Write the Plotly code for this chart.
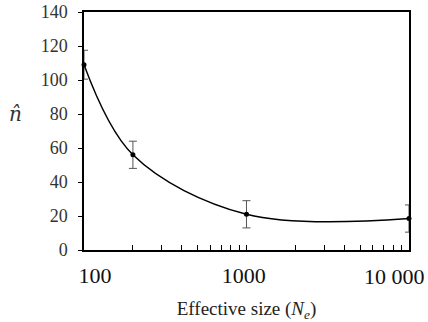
import plotly.graph_objects as go

ne = [100, 200, 1000, 10000]
n_hat = [109, 56, 21, 18.5]
err = [8.5, 8, 8, 8]
y_ticks = [0, 20, 40, 60, 80, 100, 120, 140]
x_tickvals = [100, 200, 300, 400, 500, 600, 700, 800, 900,
              1000, 2000, 3000, 4000, 5000, 6000, 7000, 8000, 9000, 10000]
NB = "\u00a0"
x_ticktext = [NB * 4 + "100", "", "", "", "", "", "", "", "",
              "1000" + NB, "", "", "", "", "", "", "", "", ""]
last_label = "10" + NB + "000"

fig = go.Figure()
fig.add_trace(go.Scatter(
    x=ne, y=n_hat, mode="lines+markers",
    line=dict(color="black", width=1.5, shape="spline", smoothing=1.0),
    marker=dict(color="black", size=5),
    error_y=dict(type="data", array=err, color="#555555", thickness=1, width=4),
    cliponaxis=False,
))

font = "Liberation Serif, Times New Roman, DejaVu Serif, serif"
fig.update_layout(
    width=428, height=322,
    margin=dict(l=84, r=19, t=12, b=72),
    paper_bgcolor="white", plot_bgcolor="white",
    showlegend=False,
    font=dict(family=font, color="#222"),
    xaxis=dict(type="log", range=[2, 4.0002], tickvals=x_tickvals, ticktext=x_ticktext,
               ticks="inside", ticklen=5, tickcolor="black", tickwidth=1,
               showline=True, linecolor="black", linewidth=1.5, mirror=True,
               showgrid=False, zeroline=False, automargin=False,
               tickfont=dict(family=font, size=22, color="#111"), ticklabelstandoff=5,
               title=dict(text="Effective size (<i>N<sub>e</sub></i>)",
                          font=dict(family=font, size=19, color="#222"), standoff=15)),
    yaxis=dict(range=[0, 140], tickvals=y_ticks,
               ticks="outside", ticklen=4, tickcolor="black", tickwidth=1,
               showline=True, linecolor="black", linewidth=1.5, mirror=True,
               showgrid=False, zeroline=False, automargin=False,
               tickfont=dict(family=font, size=18, color="#333"), ticklabelstandoff=7),
    annotations=[
        dict(text="<i>n̂</i>", xref="paper", yref="y", x=-0.21, y=80,
             showarrow=False, font=dict(size=20, family="DejaVu Serif", color="#333"),
             xanchor="center", yanchor="middle"),
        dict(text=last_label, xref="x", yref="paper", x=4, y=0, yshift=-12,
             xshift=18, showarrow=False, xanchor="right", yanchor="top",
             font=dict(family=font, size=22, color="#111")),
    ],
)

fig.write_html("out.html")
